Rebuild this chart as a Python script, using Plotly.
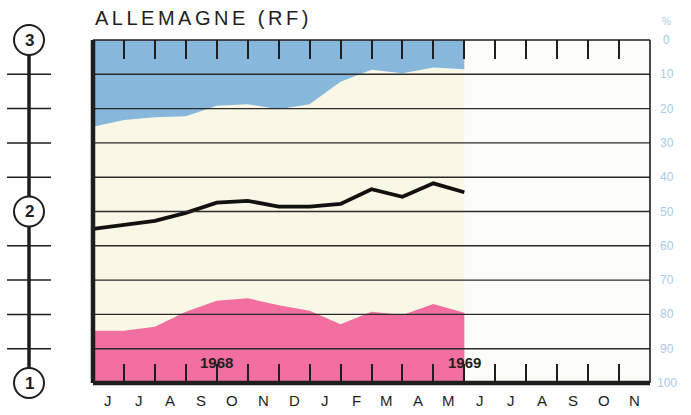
import plotly.graph_objects as go

# ---- data ----
month_labels = ["J", "J", "A", "S", "O", "N", "D", "J", "F", "M", "A", "M",
                "J", "J", "A", "S", "O", "N"]
point_pos = [0, 1, 2, 3, 4, 5, 6, 7, 8, 9, 10, 11, 12]          # month boundaries (June 1968 .. June 1969)
blue_edge = [25.3, 23.3, 22.5, 22.2, 19.2, 18.7, 20.2, 18.7, 12.2, 8.7, 9.7, 8.0, 8.5]   # % (top share)
pink_edge = [84.8, 84.8, 83.6, 79.2, 76.0, 75.3, 77.3, 78.9, 82.9, 79.2, 80.2, 77.0, 79.5]  # % (bottom share)
bottom_base = [100] * 13
index_line = [1.898, 1.922, 1.946, 1.992, 2.052, 2.062, 2.028, 2.028, 2.044, 2.130, 2.086, 2.164, 2.112]
pct_ticks = [0, 10, 20, 30, 40, 50, 60, 70, 80, 90, 100]
index_marks = [3, 2, 1]
index_minor = [2.8, 2.6, 2.4, 2.2, 1.8, 1.6, 1.4, 1.2]
year_labels = ["1968", "1969"]
year_pos = [4, 12]
data_end = 12
n_months = 18

BLUE = "#87B8DC"
PINK = "#F06FA0"
CREAM = "#F9F8E7"
RIGHT_BG = "#FCFCF9"
INK = "#1E1E1E"
LBLUE = "#A8CBE7"

fig = go.Figure()
fig.add_trace(go.Scatter(x=point_pos, y=blue_edge, fill="tozeroy", fillcolor=BLUE,
                         mode="lines", line=dict(width=0), hoverinfo="skip"))
fig.add_trace(go.Scatter(x=point_pos, y=bottom_base, mode="lines", line=dict(width=0),
                         hoverinfo="skip"))
fig.add_trace(go.Scatter(x=point_pos, y=pink_edge, fill="tonexty", fillcolor=PINK,
                         mode="lines", line=dict(width=0), hoverinfo="skip"))
fig.add_trace(go.Scatter(x=point_pos, y=index_line, yaxis="y2", mode="lines",
                         line=dict(color="#111", width=3.8), hoverinfo="skip"))

shapes = []
# cream background for the observed period
shapes.append(dict(type="rect", xref="x", yref="paper", x0=0, x1=data_end, y0=0, y1=1,
                   fillcolor=CREAM, line=dict(width=0), layer="below"))
# horizontal rules on top of fills
for v in pct_ticks[1:-1]:
    shapes.append(dict(type="line", xref="paper", yref="y", x0=0, x1=1, y0=v, y1=v,
                       line=dict(color="#2a2a2a", width=1.4), layer="above"))
# frame
shapes.append(dict(type="line", xref="paper", yref="paper", x0=0, x1=1, y0=1, y1=1,
                   line=dict(color=INK, width=1.6), layer="above"))
shapes.append(dict(type="line", xref="paper", yref="paper", x0=1, x1=1, y0=0, y1=1,
                   line=dict(color=INK, width=1.6), layer="above"))
shapes.append(dict(type="line", xref="paper", yref="paper", x0=0, x1=1, y0=0, y1=0,
                   line=dict(color=INK, width=4.5), layer="above"))
shapes.append(dict(type="line", xref="paper", yref="paper", x0=0, x1=0, y0=0, y1=1,
                   line=dict(color=INK, width=4.5), layer="above"))

# left index scale (1..3)
SX = -0.1149
def idx_to_paper(v):
    return (v - 1) / 2.0

shapes.append(dict(type="line", xref="paper", yref="paper", x0=SX, x1=SX,
                   y0=idx_to_paper(min(index_marks)), y1=idx_to_paper(max(index_marks)),
                   line=dict(color=INK, width=3.5), layer="above"))
for v in index_minor:
    shapes.append(dict(type="line", xref="paper", yref="paper", xsizemode="pixel",
                       xanchor=SX, x0=-22, x1=22, y0=idx_to_paper(v), y1=idx_to_paper(v),
                       line=dict(color=INK, width=1.5), layer="above"))
for v in index_marks:
    shapes.append(dict(type="circle", xref="paper", yref="paper", xsizemode="pixel",
                       ysizemode="pixel", xanchor=SX, yanchor=idx_to_paper(v),
                       x0=-15, x1=15, y0=-15, y1=15, fillcolor="white",
                       line=dict(color=INK, width=2), layer="above"))

annotations = []
for v in index_marks:
    annotations.append(dict(text="<b>%d</b>" % v, xref="paper", yref="paper", x=SX,
                            y=idx_to_paper(v), showarrow=False, xanchor="center",
                            yanchor="middle", font=dict(size=17, color=INK,
                                                        family="Liberation Sans, Arial")))
for i, m in enumerate(month_labels):
    annotations.append(dict(text=m, xref="x", yref="paper", x=i + 0.5, y=-0.05,
                            showarrow=False, xanchor="center", yanchor="middle",
                            font=dict(size=15, color=INK, family="Liberation Sans, Arial")))
for t, p in zip(year_labels, year_pos):
    annotations.append(dict(text="<b>%s</b>" % t, xref="x", yref="y", x=p, y=94,
                            showarrow=False, xanchor="center", yanchor="middle",
                            font=dict(size=15, color=INK, family="Liberation Sans, Arial")))
for v in pct_ticks:
    annotations.append(dict(text=str(v), xref="paper", yref="y", x=1.0305, y=v,
                            showarrow=False, xanchor="center", yanchor="middle",
                            font=dict(size=12, color=LBLUE, family="Liberation Sans Narrow, Arial")))
annotations.append(dict(text="%", xref="paper", yref="paper", x=1.0305, y=1.055,
                        showarrow=False, xanchor="center", yanchor="middle",
                        font=dict(size=10, color=LBLUE, family="Liberation Sans, Arial")))
annotations.append(dict(text='<span style="letter-spacing:3.5px">ALLEMAGNE (RF)</span>',
                        xref="paper", yref="paper", x=0.0, y=1.065, showarrow=False,
                        xanchor="left", yanchor="middle",
                        font=dict(size=20, color=INK, family="Liberation Sans, Arial")))

fig.update_layout(
    width=691, height=415,
    margin=dict(l=93, r=41, t=40, b=32),
    paper_bgcolor="white",
    plot_bgcolor=RIGHT_BG,
    showlegend=False,
    shapes=shapes,
    annotations=annotations,
    xaxis=dict(range=[0, n_months], tickvals=list(range(1, n_months)), ticks="inside",
               ticklen=19, tickwidth=1.6, tickcolor=INK, mirror="ticks",
               showticklabels=False, showgrid=False, zeroline=False, showline=False),
    yaxis=dict(range=[100, 0], showgrid=False, zeroline=False, showticklabels=False,
               ticks="", showline=False),
    yaxis2=dict(range=[1, 3], overlaying="y", visible=False),
)

fig.write_html("out.html", config={"displayModeBar": False},
               post_script="document.body.style.margin='0px';document.body.style.overflow='hidden';")
